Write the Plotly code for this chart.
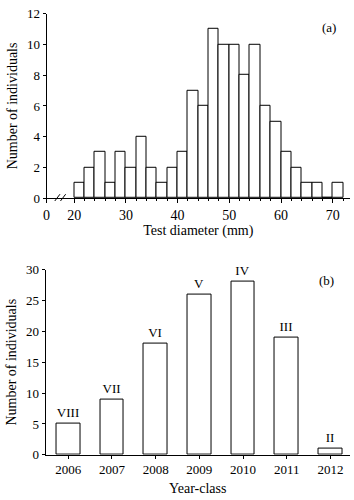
import plotly.graph_objects as go

# ---- data ----
bin_left = [20, 22, 24, 26, 28, 30, 32, 34, 36, 38, 40, 42, 44, 46, 48, 50, 52, 54, 56, 58, 60, 62, 64, 66, 68, 70]
counts_a = [1, 2, 3, 1, 3, 2, 4, 2, 1, 2, 3, 7, 6, 11, 10, 10, 8, 10, 6, 5, 3, 2, 1, 1, 0, 1]
bin_width = 2
xticks_a = [0, 20, 30, 40, 50, 60, 70]

years = ["2006", "2007", "2008", "2009", "2010", "2011", "2012"]
counts_b = [5, 9, 18, 26, 28, 19, 1]
age_labels = ["VIII", "VII", "VI", "V", "IV", "III", "II"]

# axis-break transform for panel (a): 0..20 compressed
BREAK_AT = 20
BREAK_DISP = 5.35
def disp(v):
    return v if v < BREAK_AT else v - BREAK_AT + BREAK_DISP

FONT = "Liberation Serif"

fig = go.Figure()

fig.add_trace(go.Bar(
    x=[disp(b + bin_width / 2) for b in bin_left],
    y=counts_a,
    width=bin_width,
    marker=dict(color="white", line=dict(color="black", width=1)),
    xaxis="x", yaxis="y", showlegend=False,
))

fig.add_trace(go.Bar(
    x=list(range(len(years))),
    y=counts_b,
    width=0.54,
    text=age_labels,
    textposition="outside",
    textfont=dict(family=FONT, size=13, color="black"),
    cliponaxis=False,
    marker=dict(color="white", line=dict(color="black", width=1)),
    xaxis="x2", yaxis="y2", showlegend=False,
))

axis_common = dict(
    showgrid=False, zeroline=False, showline=True, linecolor="black", linewidth=1,
    ticks="outside", ticklen=3, tickcolor="black", tickwidth=1,
    tickfont=dict(family=FONT, size=13, color="black"),
)

minor_a = [disp(v) for v in range(20, 73, 2)]

fig.update_layout(
    width=354, height=500,
    margin=dict(l=0, r=0, t=0, b=0),
    paper_bgcolor="white", plot_bgcolor="white",
    bargap=0,
    xaxis=dict(
        domain=[43 / 354, 350 / 354], anchor="y",
        range=[0, 58.7],
        tickvals=[disp(v) for v in xticks_a],
        ticktext=[str(v) for v in xticks_a],
        minor=dict(tickmode="array", tickvals=minor_a, ticks="outside", ticklen=2,
                   tickcolor="black", tickwidth=1, showgrid=False),
        title=dict(text="Test diameter (mm)", font=dict(family=FONT, size=14, color="black"), standoff=2),
        **{**axis_common, "ticklen": 4, "tickfont": dict(family=FONT, size=14, color="black")},
    ),
    yaxis=dict(
        domain=[(500 - 197) / 500, (500 - 7) / 500], anchor="x",
        range=[0, 12], dtick=2,
        title=dict(text="Number of individuals", font=dict(family=FONT, size=14, color="black"), standoff=6),
        **axis_common,
    ),
    xaxis2=dict(
        domain=[42 / 354, 350 / 354], anchor="y2",
        range=[-0.52, 6.45],
        tickvals=list(range(len(years))),
        ticktext=years,
        title=dict(text="Year-class", font=dict(family=FONT, size=14, color="black"), standoff=6),
        **axis_common,
    ),
    yaxis2=dict(
        domain=[(500 - 461.7) / 500, (500 - 270.7) / 500], anchor="x2",
        range=[0, 30], dtick=5,
        title=dict(text="Number of individuals", font=dict(family=FONT, size=14, color="black"), standoff=6),
        **axis_common,
    ),
    annotations=[
        dict(text="(a)", x=338 / 354, y=(500 - 11) / 500, xref="paper", yref="paper",
             showarrow=False, font=dict(family=FONT, size=13, color="black")),
        dict(text="(b)", x=336 / 354, y=(500 - 282) / 500, xref="paper", yref="paper",
             showarrow=False, font=dict(family=FONT, size=13, color="black")),
    ],
    shapes=[
        dict(type="line", xref="x", yref="paper", x0=1.6, x1=2.6,
             y0=(500 - 200) / 500, y1=(500 - 193) / 500, line=dict(color="black", width=1)),
        dict(type="line", xref="x", yref="paper", x0=2.7, x1=3.7,
             y0=(500 - 200) / 500, y1=(500 - 193) / 500, line=dict(color="black", width=1)),
    ],
)

fig.write_html("out.html")
